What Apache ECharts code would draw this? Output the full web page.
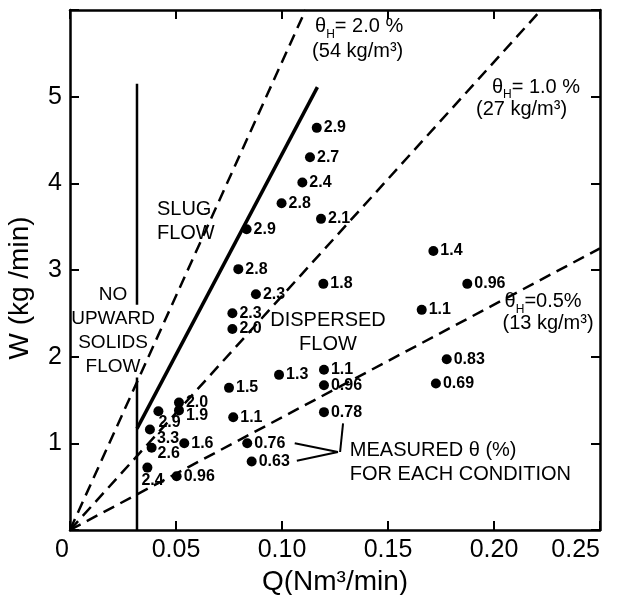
<!DOCTYPE html>
<html style="height: 100%">
<head>
<meta charset="utf-8">
</head>
<body style="height: 100%; margin: 0; background: #fff">
<div id="container" style="width: 618px; height: 595px"></div>
<script src="https://cdn.jsdelivr.net/npm/echarts@6/dist/echarts.min.js"></script>
<script>
// measured points: gas flow Q (Nm3/min), solids flow W (kg/min), measured theta (%)
var gasQ = [0.1164, 0.1132, 0.1096, 0.0998, 0.1184, 0.0833, 0.0794, 0.1195,
            0.0877, 0.0766, 0.0766, 0.0986, 0.1198, 0.1198, 0.0750, 0.0770,
            0.1198, 0.0836, 0.0857, 0.0514, 0.0514, 0.0417, 0.0377, 0.0539,
            0.0385, 0.0365, 0.0503, 0.1714, 0.1874, 0.1659, 0.1777, 0.1726];
var solidsW = [4.64, 4.30, 4.01, 3.77, 3.59, 3.47, 3.01, 2.84,
               2.72, 2.50, 2.32, 1.79, 1.85, 1.67, 1.64, 1.30,
               1.36, 1.00, 0.79, 1.47, 1.38, 1.37, 1.16, 1.00,
               0.95, 0.72, 0.62, 3.22, 2.84, 2.54, 1.97, 1.69];
var thetaLabels = ['2.9', '2.7', '2.4', '2.8', '2.1', '2.9', '2.8', '1.8',
                   '2.3', '2.3', '2.0', '1.3', '1.1', '0.96', '1.5', '1.1',
                   '0.78', '0.76', '0.63', '2.0', '1.9', '2.9', '3.3', '1.6',
                   '2.6', '2.4', '0.96', '1.4', '0.96', '1.1', '0.83', '0.69'];

// constant-holdup lines W = rho * Q
var holdup20 = [[0, 0], [0.1111, 6]];      // 54 kg/m3
var holdup10 = [[0, 0], [0.2222, 6]];      // 27 kg/m3
var holdup05 = [[0, 0], [0.25, 3.25]];     // 13 kg/m3
// regime boundaries
var slugBoundary = [[0.0316, 1.17], [0.1167, 5.11]];
var noFlowLow = [[0.0316, 0], [0.0316, 1.76]];
var noFlowHigh = [[0.0316, 2.60], [0.0316, 5.15]];
// leader lines to "MEASURED" note
var leader1 = [[0.106, 1.00], [0.1264, 0.90]];
var leader2 = [[0.107, 0.80], [0.1264, 0.90]];
var leader3 = [[0.1288, 1.23], [0.1274, 0.90]];

var xTicks = ['{z|0}', '0.05', '0.10', '0.15', '0.20', '0.25'];
var yTicks = ['', '1', '2', '3', '4', '5', ''];

// text notes [Q, W, text]
var notes = [
    [0.1156, 5.80, '{t|θ}{s|H}{t|= 2.0 %}'],
    [0.1142, 5.52, '(54 kg/m³)'],
    [0.1990, 5.10, '{t|θ}{s|H}{t|= 1.0 %}'],
    [0.1915, 4.85, '(27 kg/m³)'],
    [0.2050, 2.62, '{t|θ}{s|H}{t|=0.5%}'],
    [0.2040, 2.38, '(13 kg/m³)'],
    [0.0410, 3.56, 'SLUG\nFLOW'],
    [0.0203, 2.30, 'NO\nUPWARD\nSOLIDS\nFLOW'],
    [0.1217, 2.28, 'DISPERSED\nFLOW'],
    [0.1320, 0.78, 'MEASURED θ (%)\nFOR EACH CONDITION']
];
var noteAlign = ['left', 'left', 'left', 'left', 'left', 'left', 'left', 'center', 'center', 'left'];

// a few crowded labels sit below the dot
var labelShift = {21: [-7, 11], 22: [0, 9], 24: [-1, 6], 25: [-13, 13], 20: [0, 5]};

var dom = document.getElementById('container');
var myChart = echarts.init(dom);
var font = 'Liberation Sans';

var points = gasQ.map(function (q, i) {
    var item = {value: [q, solidsW[i]], name: thetaLabels[i]};
    if (labelShift[i]) {
        item.label = {offset: labelShift[i]};
    }
    return item;
});

function lineSeries(data, width, dashed) {
    return {
        type: 'line',
        data: data,
        showSymbol: false,
        silent: true,
        animation: false,
        lineStyle: {color: '#000', width: width, type: dashed ? [12, 7] : 'solid'},
        z: 3
    };
}

var axisBase = {
    type: 'value',
    axisLine: {show: true, onZero: false, lineStyle: {color: '#000', width: 2.5}},
    axisTick: {show: true, inside: true, length: 9, lineStyle: {color: '#000', width: 2}},
    splitLine: {show: false}
};

option = {
    backgroundColor: '#fff',
    animation: false,
    grid: {left: 70, right: 18, top: 10, bottom: 65, outerBoundsMode: 'none', containLabel: false},
    xAxis: [
        echarts.util.merge({
            min: 0, max: 0.25, interval: 0.05, position: 'bottom',
            name: 'Q(Nm³/min)', nameLocation: 'middle', nameGap: 32,
            nameTextStyle: {fontFamily: font, fontSize: 28, color: '#000'},
            axisLabel: {
                fontFamily: font, fontSize: 25, color: '#000', margin: 8,
                alignMaxLabel: 'right',
                formatter: function (v) { return xTicks[Math.round(v / 0.05)]; },
                rich: {z: {fontFamily: font, fontSize: 25, color: '#000', padding: [0, 16, 0, 0]}}
            }
        }, axisBase, true),
        echarts.util.merge({
            min: 0, max: 0.25, interval: 0.05, position: 'top',
            axisLabel: {show: false}
        }, axisBase, true)
    ],
    yAxis: [
        echarts.util.merge({
            min: 0, max: 6, interval: 1, position: 'left',
            name: 'W (kg /min)', nameLocation: 'middle', nameGap: 36, nameRotate: 90,
            nameTextStyle: {fontFamily: font, fontSize: 28, color: '#000', padding: [0, 36, 0, 0]},
            axisLabel: {
                fontFamily: font, fontSize: 25, color: '#000', margin: 8,
                formatter: function (v) { return yTicks[Math.round(v)]; }
            }
        }, axisBase, true),
        echarts.util.merge({
            min: 0, max: 6, interval: 1, position: 'right',
            axisLabel: {show: false}
        }, axisBase, true)
    ],
    series: [
        lineSeries(holdup20, 2.5, true),
        lineSeries(holdup10, 2.5, true),
        lineSeries(holdup05, 2.5, true),
        lineSeries(slugBoundary, 3.5, false),
        lineSeries(noFlowLow, 2.5, false),
        lineSeries(noFlowHigh, 2.5, false),
        lineSeries(leader1, 2, false),
        lineSeries(leader2, 2, false),
        lineSeries(leader3, 2, false),
        {
            type: 'scatter',
            data: points,
            symbolSize: 10,
            itemStyle: {color: '#000', opacity: 1},
            z: 5,
            label: {
                show: true,
                position: 'right',
                distance: 2,
                formatter: '{b}',
                fontFamily: font,
                fontWeight: 'bold',
                fontSize: 16,
                color: '#000'
            }
        },
        {
            type: 'scatter',
            symbolSize: 0,
            silent: true,
            z: 6,
            itemStyle: {color: '#000', opacity: 1},
            data: notes.map(function (n, i) {
                return {
                    value: [n[0], n[1]],
                    label: {
                        show: true,
                        position: [0, 0],
                        align: noteAlign[i],
                        verticalAlign: 'middle',
                        formatter: n[2],
                        fontSize: i === 7 ? 19 : 20,
                        color: '#000',
                        textBorderWidth: 0
                    }
                };
            }),
            label: {
                fontFamily: font,
                fontSize: 20,
                lineHeight: 24,
                color: '#000',
                textBorderWidth: 0,
                rich: {
                    t: {fontFamily: font, fontSize: 20, color: '#000', lineHeight: 22, verticalAlign: 'top'},
                    s: {fontFamily: font, fontSize: 12, color: '#000', lineHeight: 12, padding: [12, 0, 0, 0], verticalAlign: 'top'}
                }
            }
        }
    ]
};

if (option && typeof option === 'object') {
    myChart.setOption(option, true);
}
</script>
</body>
</html>
